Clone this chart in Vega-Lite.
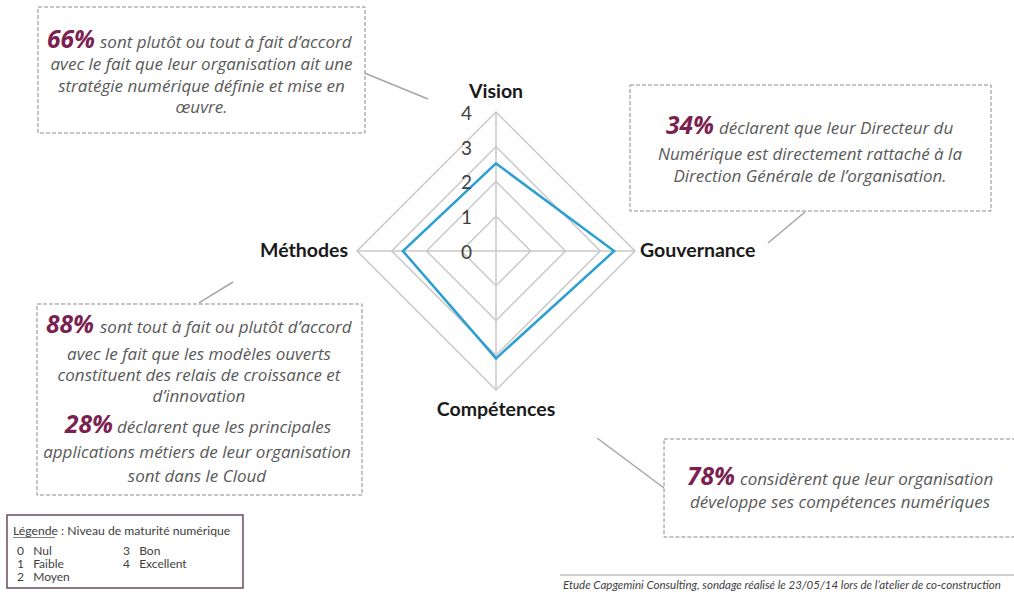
{
  "$schema": "https://vega.github.io/schema/vega-lite/v6.json",
  "width": 1014,
  "height": 592,
  "padding": 0,
  "autosize": {"type": "fit", "contains": "padding"},
  "background": "white",
  "config": {
    "view": {"stroke": null},
    "axis": {"disable": true},
    "text": {"font": "Lato"}
  },
  "datasets": {
    "scores": [
      {"axe": "Vision", "score": 2.52},
      {"axe": "Gouvernance", "score": 3.4},
      {"axe": "Compétences", "score": 3.09},
      {"axe": "Méthodes", "score": 2.68}
    ],
    "grille": [
      {"niveau": 1, "axe": "Vision"}, {"niveau": 1, "axe": "Gouvernance"}, {"niveau": 1, "axe": "Compétences"}, {"niveau": 1, "axe": "Méthodes"},
      {"niveau": 2, "axe": "Vision"}, {"niveau": 2, "axe": "Gouvernance"}, {"niveau": 2, "axe": "Compétences"}, {"niveau": 2, "axe": "Méthodes"},
      {"niveau": 3, "axe": "Vision"}, {"niveau": 3, "axe": "Gouvernance"}, {"niveau": 3, "axe": "Compétences"}, {"niveau": 3, "axe": "Méthodes"},
      {"niveau": 4, "axe": "Vision"}, {"niveau": 4, "axe": "Gouvernance"}, {"niveau": 4, "axe": "Compétences"}, {"niveau": 4, "axe": "Méthodes"}
    ],
    "graduations": [{"niveau": 0}, {"niveau": 1}, {"niveau": 2}, {"niveau": 3}, {"niveau": 4}]
  },
  "layer": [
    {
      "data": {"name": "grille"},
      "transform": [
        {"calculate": "indexof(['Vision','Gouvernance','Compétences','Méthodes'], datum.axe)", "as": "rang"},
        {"calculate": "datum.axe === 'Gouvernance' ? datum.niveau : datum.axe === 'Méthodes' ? -datum.niveau : 0", "as": "gx"},
        {"calculate": "datum.axe === 'Vision' ? datum.niveau : datum.axe === 'Compétences' ? -datum.niveau : 0", "as": "gy"}
      ],
      "mark": {"type": "line", "interpolate": "linear-closed", "color": "#c8c8c8", "strokeWidth": 1.5},
      "encoding": {
        "x": {"field": "gx", "type": "quantitative", "scale": {"domain": [-14.273, 14.906], "nice": false, "zero": false}},
        "y": {"field": "gy", "type": "quantitative", "scale": {"domain": [-9.813, 7.223], "nice": false, "zero": false}},
        "detail": {"field": "niveau", "type": "nominal"},
        "order": {"field": "rang", "type": "quantitative"}
      }
    },
    {
      "data": {"name": "grille"},
      "transform": [
        {"filter": "datum.niveau == 4"},
        {"calculate": "datum.axe === 'Vision' || datum.axe === 'Compétences' ? 'vertical' : 'horizontal'", "as": "branche"},
        {"calculate": "datum.axe === 'Gouvernance' ? datum.niveau : datum.axe === 'Méthodes' ? -datum.niveau : 0", "as": "gx"},
        {"calculate": "datum.axe === 'Vision' ? datum.niveau : datum.axe === 'Compétences' ? -datum.niveau : 0", "as": "gy"}
      ],
      "mark": {"type": "line", "color": "#c8c8c8", "strokeWidth": 1.5},
      "encoding": {
        "x": {"field": "gx", "type": "quantitative"},
        "y": {"field": "gy", "type": "quantitative"},
        "detail": {"field": "branche", "type": "nominal"}
      }
    },
    {
      "data": {"name": "scores"},
      "transform": [
        {"calculate": "indexof(['Vision','Gouvernance','Compétences','Méthodes'], datum.axe)", "as": "rang"},
        {"calculate": "datum.axe === 'Gouvernance' ? datum.score : datum.axe === 'Méthodes' ? -datum.score : 0", "as": "sx"},
        {"calculate": "datum.axe === 'Vision' ? datum.score : datum.axe === 'Compétences' ? -datum.score : 0", "as": "sy"}
      ],
      "mark": {"type": "line", "interpolate": "linear-closed", "color": "#2b9fd1", "strokeWidth": 2.5},
      "encoding": {
        "x": {"field": "sx", "type": "quantitative"},
        "y": {"field": "sy", "type": "quantitative"},
        "order": {"field": "rang", "type": "quantitative"}
      }
    },
    {
      "data": {"name": "graduations"},
      "mark": {"type": "text", "align": "right", "baseline": "middle", "dy": 2, "fontSize": 19, "color": "#404040"},
      "encoding": {
        "x": {"datum": -0.69, "type": "quantitative"},
        "y": {"field": "niveau", "type": "quantitative"},
        "text": {"field": "niveau", "type": "quantitative"}
      }
    },
    {
      "data": {"values": [{"t": "Vision"}]},
      "mark": {"type": "text", "align": "center", "baseline": "middle", "fontSize": 19.5, "fontWeight": "bold", "color": "#1a1a1a"},
      "encoding": {"x": {"datum": 0, "type": "quantitative"}, "y": {"datum": 4.576, "type": "quantitative"}, "text": {"field": "t", "type": "nominal"}}
    },
    {
      "data": {"values": [{"t": "Gouvernance"}]},
      "mark": {"type": "text", "align": "left", "baseline": "middle", "fontSize": 19.5, "fontWeight": "bold", "color": "#1a1a1a"},
      "encoding": {"x": {"datum": 4.144, "type": "quantitative"}, "y": {"datum": 0, "type": "quantitative"}, "text": {"field": "t", "type": "nominal"}}
    },
    {
      "data": {"values": [{"t": "Méthodes"}]},
      "mark": {"type": "text", "align": "right", "baseline": "middle", "fontSize": 19.5, "fontWeight": "bold", "color": "#1a1a1a"},
      "encoding": {"x": {"datum": -4.259, "type": "quantitative"}, "y": {"datum": 0, "type": "quantitative"}, "text": {"field": "t", "type": "nominal"}}
    },
    {
      "data": {"values": [{"t": "Compétences"}]},
      "mark": {"type": "text", "align": "center", "baseline": "middle", "fontSize": 19.5, "fontWeight": "bold", "color": "#1a1a1a"},
      "encoding": {"x": {"datum": 0, "type": "quantitative"}, "y": {"datum": -4.576, "type": "quantitative"}, "text": {"field": "t", "type": "nominal"}}
    },
    {
      "data": {"values": [{"from": "Vision"}]},
      "mark": {"type": "rule", "color": "#a6a6a6", "strokeWidth": 1.5},
      "encoding": {"x": {"datum": -3.856, "type": "quantitative"}, "y": {"datum": 5.151, "type": "quantitative"}, "x2": {"datum": -1.957, "type": "quantitative"}, "y2": {"datum": 4.374, "type": "quantitative"}}
    },
    {
      "data": {"values": [{"from": "Gouvernance"}]},
      "mark": {"type": "rule", "color": "#a6a6a6", "strokeWidth": 1.5},
      "encoding": {"x": {"datum": 8.892, "type": "quantitative"}, "y": {"datum": 1.122, "type": "quantitative"}, "x2": {"datum": 7.827, "type": "quantitative"}, "y2": {"datum": 0.23, "type": "quantitative"}}
    },
    {
      "data": {"values": [{"from": "Méthodes"}]},
      "mark": {"type": "rule", "color": "#a6a6a6", "strokeWidth": 1.5},
      "encoding": {"x": {"datum": -8.547, "type": "quantitative"}, "y": {"datum": -1.496, "type": "quantitative"}, "x2": {"datum": -7.568, "type": "quantitative"}, "y2": {"datum": -0.892, "type": "quantitative"}}
    },
    {
      "data": {"values": [{"from": "Compétences"}]},
      "mark": {"type": "rule", "color": "#a6a6a6", "strokeWidth": 1.5},
      "encoding": {"x": {"datum": 2.906, "type": "quantitative"}, "y": {"datum": -5.381, "type": "quantitative"}, "x2": {"datum": 4.835, "type": "quantitative"}, "y2": {"datum": -6.82, "type": "quantitative"}}
    },
    {
      "data": {"values": [{"boite": "Vision"}]},
      "mark": {"type": "rect", "fill": "white", "stroke": "#8a8a8a", "strokeDash": [4, 2], "strokeWidth": 1},
      "encoding": {"x": {"datum": -13.18, "type": "quantitative"}, "x2": {"datum": -3.77, "type": "quantitative"}, "y": {"datum": 7.022, "type": "quantitative"}, "y2": {"datum": 3.396, "type": "quantitative"}}
    },
    {
      "data": {"values": [{"boite": "Gouvernance"}]},
      "mark": {"type": "rect", "fill": "white", "stroke": "#8a8a8a", "strokeDash": [4, 2], "strokeWidth": 1},
      "encoding": {"x": {"datum": 3.856, "type": "quantitative"}, "x2": {"datum": 14.245, "type": "quantitative"}, "y": {"datum": 4.777, "type": "quantitative"}, "y2": {"datum": 1.151, "type": "quantitative"}}
    },
    {
      "data": {"values": [{"boite": "Méthodes"}]},
      "mark": {"type": "rect", "fill": "white", "stroke": "#8a8a8a", "strokeDash": [4, 2], "strokeWidth": 1},
      "encoding": {"x": {"datum": -13.209, "type": "quantitative"}, "x2": {"datum": -3.856, "type": "quantitative"}, "y": {"datum": -1.525, "type": "quantitative"}, "y2": {"datum": -7.022, "type": "quantitative"}}
    },
    {
      "data": {"values": [{"boite": "Compétences"}]},
      "mark": {"type": "rect", "fill": "white", "stroke": "#8a8a8a", "strokeDash": [4, 2], "strokeWidth": 1, "clip": true},
      "encoding": {"x": {"datum": 4.835, "type": "quantitative"}, "x2": {"datum": 15.3, "type": "quantitative"}, "y": {"datum": -5.41, "type": "quantitative"}, "y2": {"datum": -8.23, "type": "quantitative"}}
    },
    {
      "data": {"values": [{"t": "66%"}]},
      "mark": {"type": "text", "align": "right", "baseline": "alphabetic", "font": "Open Sans", "fontSize": 24.5, "fontStyle": "italic", "fontWeight": "bold", "color": "#7b2150"},
      "encoding": {"x": {"datum": -11.54, "type": "quantitative"}, "y": {"datum": 5.842, "type": "quantitative"}, "text": {"field": "t", "type": "nominal"}}
    },
    {
      "data": {"values": [{"t": "sont plutôt ou tout à fait d’accord"}]},
      "mark": {"type": "text", "align": "left", "baseline": "alphabetic", "font": "Open Sans", "fontSize": 17, "fontStyle": "italic", "color": "#595959"},
      "encoding": {"x": {"datum": -11.396, "type": "quantitative"}, "y": {"datum": 5.842, "type": "quantitative"}, "text": {"field": "t", "type": "nominal"}}
    },
    {
      "data": {"values": [{"t": "avec le fait que leur organisation ait une|stratégie numérique définie et mise en|œuvre."}]},
      "mark": {"type": "text", "align": "center", "baseline": "alphabetic", "font": "Open Sans", "fontSize": 17, "fontStyle": "italic", "color": "#595959", "lineBreak": "|", "lineHeight": 21.7},
      "encoding": {"x": {"datum": -8.475, "type": "quantitative"}, "y": {"datum": 5.209, "type": "quantitative"}, "text": {"field": "t", "type": "nominal"}}
    },
    {
      "data": {"values": [{"t": "34%"}]},
      "mark": {"type": "text", "align": "right", "baseline": "alphabetic", "font": "Open Sans", "fontSize": 24.5, "fontStyle": "italic", "fontWeight": "bold", "color": "#7b2150"},
      "encoding": {"x": {"datum": 6.273, "type": "quantitative"}, "y": {"datum": 3.367, "type": "quantitative"}, "text": {"field": "t", "type": "nominal"}}
    },
    {
      "data": {"values": [{"t": "déclarent que leur Directeur du"}]},
      "mark": {"type": "text", "align": "left", "baseline": "alphabetic", "font": "Open Sans", "fontSize": 17, "fontStyle": "italic", "color": "#595959"},
      "encoding": {"x": {"datum": 6.417, "type": "quantitative"}, "y": {"datum": 3.367, "type": "quantitative"}, "text": {"field": "t", "type": "nominal"}}
    },
    {
      "data": {"values": [{"t": "Numérique est directement rattaché à la|Direction Générale de l’organisation."}]},
      "mark": {"type": "text", "align": "center", "baseline": "alphabetic", "font": "Open Sans", "fontSize": 17, "fontStyle": "italic", "color": "#595959", "lineBreak": "|", "lineHeight": 22},
      "encoding": {"x": {"datum": 9.036, "type": "quantitative"}, "y": {"datum": 2.619, "type": "quantitative"}, "text": {"field": "t", "type": "nominal"}}
    },
    {
      "data": {"values": [{"t": "88%"}]},
      "mark": {"type": "text", "align": "right", "baseline": "alphabetic", "font": "Open Sans", "fontSize": 24.5, "fontStyle": "italic", "fontWeight": "bold", "color": "#7b2150"},
      "encoding": {"x": {"datum": -11.568, "type": "quantitative"}, "y": {"datum": -2.369, "type": "quantitative"}, "text": {"field": "t", "type": "nominal"}}
    },
    {
      "data": {"values": [{"t": "sont tout à fait ou plutôt d’accord"}]},
      "mark": {"type": "text", "align": "left", "baseline": "alphabetic", "font": "Open Sans", "fontSize": 17, "fontStyle": "italic", "color": "#595959"},
      "encoding": {"x": {"datum": -11.396, "type": "quantitative"}, "y": {"datum": -2.369, "type": "quantitative"}, "text": {"field": "t", "type": "nominal"}}
    },
    {
      "data": {"values": [{"t": "avec le fait que les modèles ouverts|constituent des relais de croissance et|d’innovation"}]},
      "mark": {"type": "text", "align": "center", "baseline": "alphabetic", "font": "Open Sans", "fontSize": 17, "fontStyle": "italic", "color": "#595959", "lineBreak": "|", "lineHeight": 20.9},
      "encoding": {"x": {"datum": -8.547, "type": "quantitative"}, "y": {"datum": -3.137, "type": "quantitative"}, "text": {"field": "t", "type": "nominal"}}
    },
    {
      "data": {"values": [{"t": "28%"}]},
      "mark": {"type": "text", "align": "right", "baseline": "alphabetic", "font": "Open Sans", "fontSize": 24.5, "fontStyle": "italic", "fontWeight": "bold", "color": "#7b2150"},
      "encoding": {"x": {"datum": -11.022, "type": "quantitative"}, "y": {"datum": -5.247, "type": "quantitative"}, "text": {"field": "t", "type": "nominal"}}
    },
    {
      "data": {"values": [{"t": "déclarent que les principales"}]},
      "mark": {"type": "text", "align": "left", "baseline": "alphabetic", "font": "Open Sans", "fontSize": 17, "fontStyle": "italic", "color": "#595959"},
      "encoding": {"x": {"datum": -10.906, "type": "quantitative"}, "y": {"datum": -5.247, "type": "quantitative"}, "text": {"field": "t", "type": "nominal"}}
    },
    {
      "data": {"values": [{"t": "applications métiers de leur organisation|sont dans le Cloud"}]},
      "mark": {"type": "text", "align": "center", "baseline": "alphabetic", "font": "Open Sans", "fontSize": 17, "fontStyle": "italic", "color": "#595959", "lineBreak": "|", "lineHeight": 23.4},
      "encoding": {"x": {"datum": -8.604, "type": "quantitative"}, "y": {"datum": -5.966, "type": "quantitative"}, "text": {"field": "t", "type": "nominal"}}
    },
    {
      "data": {"values": [{"t": "78%"}]},
      "mark": {"type": "text", "align": "right", "baseline": "alphabetic", "font": "Open Sans", "fontSize": 24.5, "fontStyle": "italic", "fontWeight": "bold", "color": "#7b2150"},
      "encoding": {"x": {"datum": 6.878, "type": "quantitative"}, "y": {"datum": -6.734, "type": "quantitative"}, "text": {"field": "t", "type": "nominal"}}
    },
    {
      "data": {"values": [{"t": "considèrent que leur organisation"}]},
      "mark": {"type": "text", "align": "left", "baseline": "alphabetic", "font": "Open Sans", "fontSize": 17, "fontStyle": "italic", "color": "#595959"},
      "encoding": {"x": {"datum": 7.022, "type": "quantitative"}, "y": {"datum": -6.734, "type": "quantitative"}, "text": {"field": "t", "type": "nominal"}}
    },
    {
      "data": {"values": [{"t": "développe ses compétences numériques"}]},
      "mark": {"type": "text", "align": "center", "baseline": "alphabetic", "font": "Open Sans", "fontSize": 17, "fontStyle": "italic", "color": "#595959"},
      "encoding": {"x": {"datum": 9.899, "type": "quantitative"}, "y": {"datum": -7.405, "type": "quantitative"}, "text": {"field": "t", "type": "nominal"}}
    },
    {
      "data": {"values": [{"boite": "Légende"}]},
      "mark": {"type": "rect", "fill": "white", "stroke": "#6b4a5c", "strokeWidth": 1.5},
      "encoding": {"x": {"datum": -14.072, "type": "quantitative"}, "x2": {"datum": -7.281, "type": "quantitative"}, "y": {"datum": -7.597, "type": "quantitative"}, "y2": {"datum": -9.698, "type": "quantitative"}}
    },
    {
      "data": {"values": [{"t": "Légende : Niveau de maturité numérique"}]},
      "mark": {"type": "text", "align": "left", "baseline": "middle", "fontSize": 12.2, "color": "#404040"},
      "encoding": {"x": {"datum": -13.899, "type": "quantitative"}, "y": {"datum": -8.058, "type": "quantitative"}, "text": {"field": "t", "type": "nominal"}}
    },
    {
      "data": {"values": [{"t": "Légende"}]},
      "mark": {"type": "rule", "color": "#606060", "strokeWidth": 0.8},
      "encoding": {"x": {"datum": -13.899, "type": "quantitative"}, "x2": {"datum": -12.691, "type": "quantitative"}, "y": {"datum": -8.245, "type": "quantitative"}, "y2": {"datum": -8.245, "type": "quantitative"}}
    },
    {
      "data": {"values": [{"t": "0\u00a0\u00a0 Nul|1\u00a0\u00a0 Faible|2\u00a0\u00a0 Moyen"}]},
      "mark": {"type": "text", "align": "left", "baseline": "middle", "fontSize": 12, "color": "#404040", "lineBreak": "|", "lineHeight": 13.2},
      "encoding": {"x": {"datum": -13.784, "type": "quantitative"}, "y": {"datum": -8.633, "type": "quantitative"}, "text": {"field": "t", "type": "nominal"}}
    },
    {
      "data": {"values": [{"t": "3\u00a0\u00a0 Bon|4\u00a0\u00a0 Excellent"}]},
      "mark": {"type": "text", "align": "left", "baseline": "middle", "fontSize": 12, "color": "#404040", "lineBreak": "|", "lineHeight": 13.2},
      "encoding": {"x": {"datum": -10.734, "type": "quantitative"}, "y": {"datum": -8.633, "type": "quantitative"}, "text": {"field": "t", "type": "nominal"}}
    },
    {
      "data": {"values": [{"t": "source"}]},
      "mark": {"type": "rule", "color": "#a0a0a0", "strokeWidth": 1, "clip": true},
      "encoding": {"x": {"datum": 1.842, "type": "quantitative"}, "x2": {"datum": 14.906, "type": "quantitative"}, "y": {"datum": -9.324, "type": "quantitative"}, "y2": {"datum": -9.324, "type": "quantitative"}}
    },
    {
      "data": {"values": [{"t": "Etude Capgemini Consulting, sondage réalisé  le 23/05/14 lors de l’atelier de co-construction"}]},
      "mark": {"type": "text", "align": "left", "baseline": "middle", "fontSize": 11.5, "fontStyle": "italic", "color": "#404040"},
      "encoding": {"x": {"datum": 1.928, "type": "quantitative"}, "y": {"datum": -9.64, "type": "quantitative"}, "text": {"field": "t", "type": "nominal"}}
    }
  ]
}
